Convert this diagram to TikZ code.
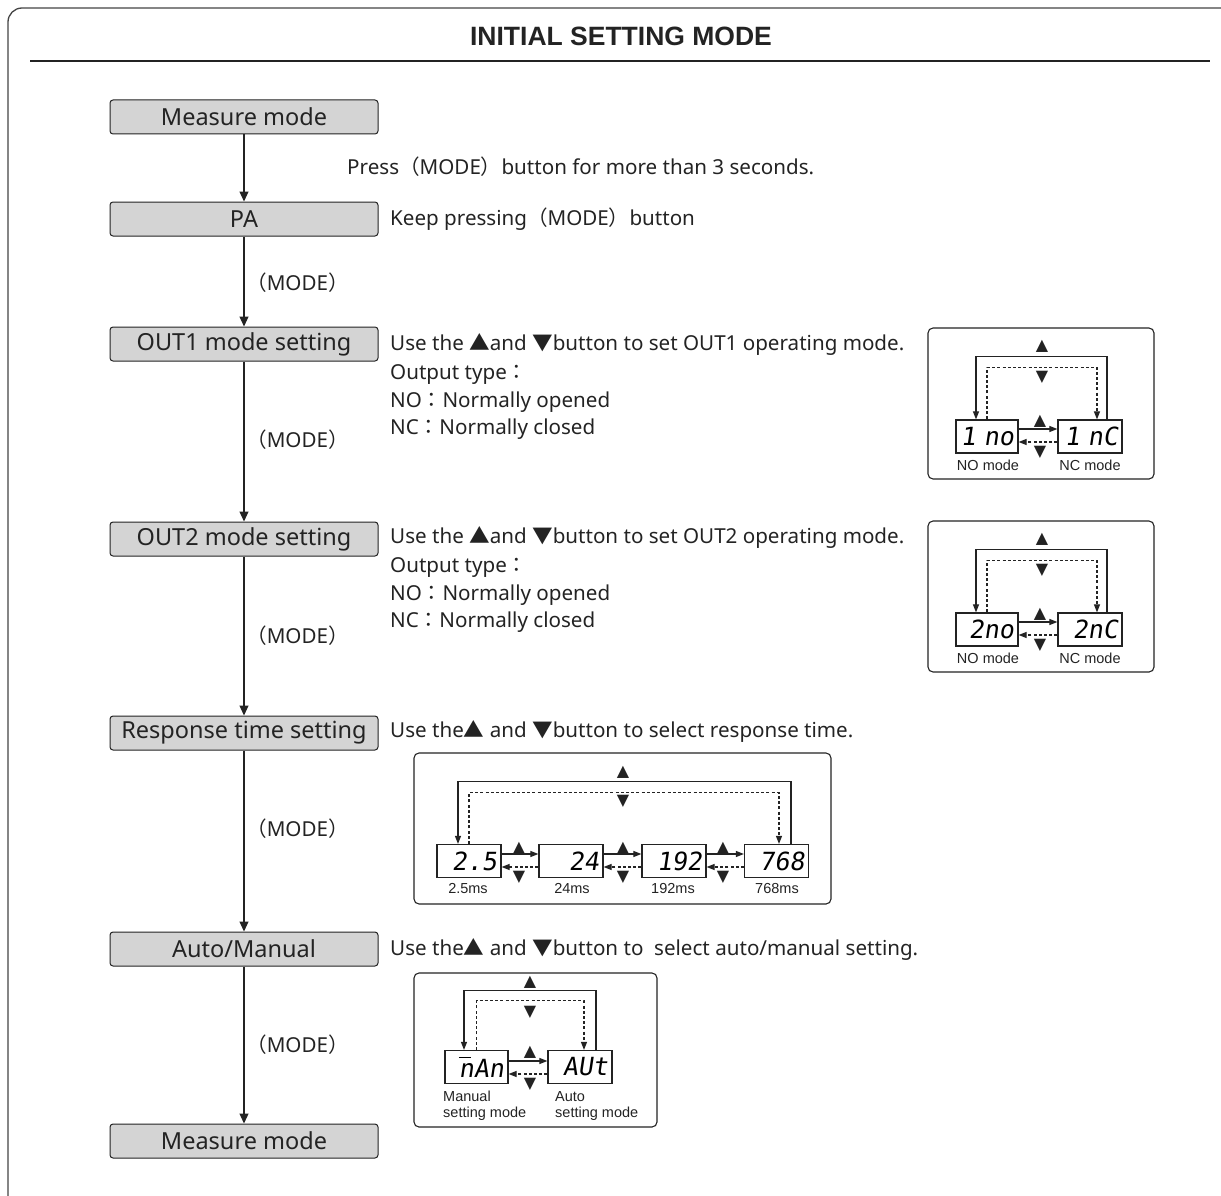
\documentclass[tikz,border=0pt]{standalone}
\usepackage{fontspec}
\setmainfont{Noto Sans}
\newfontfamily\cjkf{Noto Sans CJK JP}
\newfontfamily\arialf{Liberation Sans}
\newfontfamily\symf{DejaVu Sans}
\newfontfamily\segf[FakeSlant=0.15]{DejaVu Sans Mono}
\newcommand\lpr{{\cjkf （}}
\newcommand\rpr{{\cjkf ）}}
\newcommand\fcol{{\cjkf ：}}
\newcommand\uptri{{\cjkf ▲}}
\newcommand\dntri{{\cjkf ▼}}
\usetikzlibrary{arrows.meta,calc}
\definecolor{boxgray}{RGB}{212,212,212}
\definecolor{ink}{RGB}{35,35,35}
\begin{document}
\begin{tikzpicture}[x=1pt,y=-1pt,
  frame/.style={draw=ink!85, line width=1.3, rounded corners=14},
  sepline/.style={draw=ink, line width=1.6},
  titlenode/.style={font=\arialf\bfseries\fontsize{26.5}{26.5}\selectfont, text=ink},
  modebox/.style={draw=ink, fill=boxgray, rounded corners=3, line width=1, minimum width=268, minimum height=34, inner sep=0, font=\fontsize{23.5}{23.5}\selectfont, text=ink},
  flow/.style={-{Triangle[length=10,width=9]}, line width=1.2, draw=ink},
  desc/.style={anchor=west, inner sep=0, font=\fontsize{20.6}{20.6}\selectfont, text=ink},
  inset/.style={draw=ink, line width=1.1, rounded corners=5},
  disp/.style={draw=ink, line width=1.2, minimum height=33, inner sep=3, align=right, font=\segf\fontsize{25}{25}\selectfont},
  loopa/.style={-{Triangle[length=8,width=6]}, line width=1.1, draw=ink},
  loopd/.style={loopa, dash pattern=on 3pt off 2.2pt},
  tri/.style={inner sep=0, font=\symf\fontsize{16}{16}\selectfont, text=ink},
  capt/.style={inner sep=0, font=\arialf\fontsize{14.5}{16}\selectfont, text=ink}
]
\useasboundingbox (0,0) rectangle (1221,1196);
% frame
\coordinate (fb) at (8,1196);
\coordinate (fc) at (8,8);
\coordinate (fr) at (1221,8);
\draw[frame] (fb) -- (fc) -- (fr);
\coordinate (sepL) at (30,61);
\coordinate (sepR) at (1210,61);
\draw[sepline] (sepL) -- (sepR);
\node[titlenode] (title) at (621,36) {INITIAL SETTING MODE};

% flow boxes
\node[modebox] (b1) at (244,117) {Measure mode};
\node[modebox] (b2) at (244,219) {PA};
\node[modebox] (b3) at (244,344) {OUT1 mode setting};
\node[modebox] (b4) at (244,539) {OUT2 mode setting};
\node[modebox] (b5) at (244,733) {Response time setting};
\node[modebox] (b6) at (244,949) {Auto/Manual};
\node[modebox] (b7) at (244,1141) {Measure mode};
\draw[flow] (b1) -- (b2);
\draw[flow] (b2) -- (b3);
\draw[flow] (b3) -- (b4);
\draw[flow] (b4) -- (b5);
\draw[flow] (b5) -- (b6);
\draw[flow] (b6) -- (b7);

% descriptions
\node[desc] (t1) at (347,167) {Press\lpr MODE\rpr button for more than 3 seconds.};
\node[desc] (t2) at (390,219) {Keep pressing\lpr MODE\rpr button};
\node[desc] (k1) at (246,283) {\lpr MODE\rpr};
\node[desc] (t3) at (390,344) {Use the \uptri and \dntri button to set OUT1 operating mode.};
\node[desc] (t3a) at (390,375) {Output type\fcol};
\node[desc] (t3b) at (390,402) {NO\fcol Normally opened};
\node[desc] (t3c) at (390,429) {NC\fcol Normally closed};
\node[desc] (k2) at (246,440) {\lpr MODE\rpr};
\node[desc] (t4) at (390,537) {Use the \uptri and \dntri button to set OUT2 operating mode.};
\node[desc] (t4a) at (390,568) {Output type\fcol};
\node[desc] (t4b) at (390,595) {NO\fcol Normally opened};
\node[desc] (t4c) at (390,622) {NC\fcol Normally closed};
\node[desc] (k3) at (246,636) {\lpr MODE\rpr};
\node[desc] (t5) at (390,731) {Use the\uptri\ and \dntri button to select response time.};
\node[desc] (k4) at (246,829) {\lpr MODE\rpr};
\node[desc] (t6) at (390,949) {Use the\uptri\ and \dntri button to\ \ select auto/manual setting.};
\node[desc] (k5) at (246,1045) {\lpr MODE\rpr};

% ---- inset 1 (OUT1)
\coordinate (i1a) at (928,328);
\coordinate (i1b) at (1154,479);
\draw[inset] (i1a) rectangle (i1b);
\node[disp, minimum width=62, text width=54] (aL) at (987,436.5) {1 no};
\node[disp, minimum width=64, text width=56] (aR) at (1090,436.5) {1 nC};
\draw[loopa] ([xshift=17]aR.north) -- ++(0,-63) -| ([xshift=-11]aL.north);
\draw[loopd] (aL.north) -- ++(0,-52) -| ([xshift=7]aR.north);
\draw[loopa] ([yshift=7.5]aL.east) -- ([yshift=7.5]aR.west);
\draw[loopd] ([yshift=-5.5]aR.west) -- ([yshift=-5.5]aL.east);
\node[tri] (a1) at (1042,346) {▲};
\node[tri] (a2) at (1042,377) {▼};
\node[tri] (a3) at (1040,421) {▲};
\node[tri] (a4) at (1040,452) {▼};
\node[capt] (aLc) at (988,465) {NO mode};
\node[capt] (aRc) at (1090,465) {NC mode};

% ---- inset 2 (OUT2)
\coordinate (i2a) at (928,521);
\coordinate (i2b) at (1154,672);
\draw[inset] (i2a) rectangle (i2b);
\node[disp, minimum width=62, text width=54] (bL) at (987,629.5) {2no};
\node[disp, minimum width=64, text width=56] (bR) at (1090,629.5) {2nC};
\draw[loopa] ([xshift=17]bR.north) -- ++(0,-63) -| ([xshift=-11]bL.north);
\draw[loopd] (bL.north) -- ++(0,-52) -| ([xshift=7]bR.north);
\draw[loopa] ([yshift=7.5]bL.east) -- ([yshift=7.5]bR.west);
\draw[loopd] ([yshift=-5.5]bR.west) -- ([yshift=-5.5]bL.east);
\node[tri] (b1t) at (1042,539) {▲};
\node[tri] (b2t) at (1042,570) {▼};
\node[tri] (b3t) at (1040,614) {▲};
\node[tri] (b4t) at (1040,645) {▼};
\node[capt] (bLc) at (988,658) {NO mode};
\node[capt] (bRc) at (1090,658) {NC mode};

% ---- inset 3 (response time)
\coordinate (i3a) at (414,753);
\coordinate (i3b) at (831,904);
\draw[inset] (i3a) rectangle (i3b);
\node[disp, minimum width=64, text width=56] (c1) at (469,861) {2.5};
\node[disp, minimum width=64, text width=56] (c2) at (571,861) {24};
\node[disp, minimum width=64, text width=56] (c3) at (674,861) {192};
\node[disp, minimum width=64, text width=56] (c4) at (776.5,861) {768};
\draw[loopa] ([xshift=14.5]c4.north) -- ++(0,-62) -| ([xshift=-11]c1.north);
\draw[loopd] (c1.north) -- ++(0,-51) -| ([xshift=2.5]c4.north);
\draw[loopa] ([yshift=7]c1.east) -- ([yshift=7]c2.west);
\draw[loopd] ([yshift=-6]c2.west) -- ([yshift=-6]c1.east);
\draw[loopa] ([yshift=7]c2.east) -- ([yshift=7]c3.west);
\draw[loopd] ([yshift=-6]c3.west) -- ([yshift=-6]c2.east);
\draw[loopa] ([yshift=7]c3.east) -- ([yshift=7]c4.west);
\draw[loopd] ([yshift=-6]c4.west) -- ([yshift=-6]c3.east);
\node[tri] (c1t) at (623,772) {▲};
\node[tri] (c2t) at (623,801) {▼};
\node[tri] (c3t) at (519,848) {▲};
\node[tri] (c4t) at (519,877) {▼};
\node[tri] (c5t) at (623,848) {▲};
\node[tri] (c6t) at (623,877) {▼};
\node[tri] (c7t) at (723,848) {▲};
\node[tri] (c8t) at (723,877) {▼};
\node[capt] (c1c) at (468,888) {2.5ms};
\node[capt] (c2c) at (572,888) {24ms};
\node[capt] (c3c) at (673,888) {192ms};
\node[capt] (c4c) at (777,888) {768ms};

% ---- inset 4 (auto/manual)
\coordinate (i4a) at (414,973);
\coordinate (i4b) at (657,1127);
\draw[inset] (i4a) rectangle (i4b);
\node[disp, minimum width=63, text width=55] (dL) at (476.5,1067) {\makebox[0pt][l]{\raisebox{0.78em}{\rule{0.5em}{1.4pt}}}nAn};
\node[disp, minimum width=64, text width=56] (dR) at (580,1067) {AUt};
\draw[loopa] ([xshift=16]dR.north) -- ++(0,-59) -| ([xshift=-12.5]dL.north);
\draw[loopd] (dL.north) -- ++(0,-49) -| ([xshift=4]dR.north);
\draw[loopa] ([yshift=6]dL.east) -- ([yshift=6]dR.west);
\draw[loopd] ([yshift=-7]dR.west) -- ([yshift=-7]dL.east);
\node[tri] (d1t) at (530,982) {▲};
\node[tri] (d2t) at (530,1012) {▼};
\node[tri] (d3t) at (530,1052) {▲};
\node[tri] (d4t) at (530,1084) {▼};
\node[capt, anchor=west, align=left] (dLc) at (443,1106) {Manual\\setting mode};
\node[capt, anchor=west, align=left] (dRc) at (555,1106) {Auto\\setting mode};
\end{tikzpicture}
\end{document}
